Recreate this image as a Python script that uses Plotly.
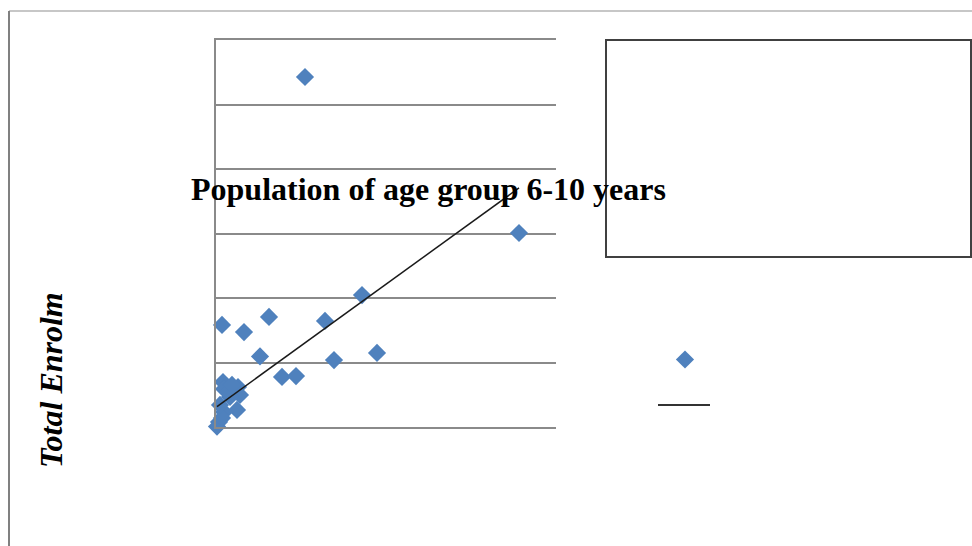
import numpy as np
import plotly.graph_objects as go

# District data: population aged 6-10 vs total enrolment
population_6_10 = [89000, 303000, 146000, 6000, 53000, 28000, 109000, 44000,
                   161000, 118000, 66000, 80000, 7000, 8000, 22000, 24000,
                   14000, 21000, 8000, 3000, 1000, 6000, 12000, 4000, 16000]
total_enrolment = [271300, 150400, 102300, 79100, 85300, 73600, 82200, 54700,
                   57400, 51900, 38800, 39500, 34900, 29500, 31000, 24800,
                   23300, 13200, 11600, 3900, 300, 7000, 27100, 17100, 32600]

# Linear trend (slope, intercept)
trend_slope = 0.561
trend_intercept = 15300

x_range = [0, 340000]
y_range = [0, 300000]
y_step = 50000

W, H = 972, 546
ML, MR, MT, MB = 216, 416, 40, 119
PW, PH = W - ML - MR, H - MT - MB


def fx(px):
    return (px - ML) / PW


def fy(py):
    return (H - MB - py) / PH


tx = np.array([min(population_6_10), max(population_6_10)])
ty = trend_slope * tx + trend_intercept

fig = go.Figure()
fig.add_trace(go.Scatter(
    x=population_6_10, y=total_enrolment, mode="markers",
    marker=dict(symbol="diamond", size=14, color="#4F81BD",
                line=dict(width=0)),
    cliponaxis=False, name=" ", showlegend=True,
))
fig.add_trace(go.Scatter(
    x=tx, y=ty, mode="lines", line=dict(color="#1a1a1a", width=1.5),
    cliponaxis=False, name=" ", showlegend=False,
))

gray = "#8a8a8a"
shapes = [
    # outer frame
    dict(type="line", xref="paper", yref="paper", x0=fx(9), x1=fx(972),
         y0=fy(11), y1=fy(11), line=dict(color="#b4b4b4", width=1.5)),
    dict(type="line", xref="paper", yref="paper", x0=fx(9), x1=fx(9),
         y0=fy(11), y1=fy(546), line=dict(color="#808080", width=2)),
    # legend frame
    dict(type="rect", xref="paper", yref="paper", x0=fx(606), x1=fx(971),
         y0=fy(40), y1=fy(257), line=dict(color="#404040", width=2)),
    # key for the trend line
    dict(type="line", xref="paper", yref="paper", x0=fx(658), x1=fx(710),
         y0=fy(405), y1=fy(405), line=dict(color="#333333", width=2)),
]

fig.update_layout(
    width=W, height=H,
    margin=dict(l=ML, r=MR, t=MT, b=MB, pad=0),
    paper_bgcolor="white", plot_bgcolor="white",
    xaxis=dict(range=x_range, showgrid=False, zeroline=False,
               showticklabels=False, showline=True, mirror=True,
               linecolor=gray, linewidth=1.5, ticks=""),
    yaxis=dict(range=y_range, dtick=y_step, tick0=0,
               showgrid=True, gridcolor=gray, gridwidth=1.5,
               zeroline=True, zerolinecolor=gray, zerolinewidth=1.5,
               showline=True, linecolor=gray, linewidth=1.5,
               showticklabels=False, ticks=""),
    showlegend=True,
    legend=dict(x=fx(665), y=fy(345), xanchor="left", yanchor="top",
                bgcolor="rgba(0,0,0,0)", font=dict(size=12)),
    shapes=shapes,
    annotations=[
        dict(text="<b>Population of age group 6-10 years</b>",
             xref="paper", yref="paper", x=fx(428.5), y=fy(189),
             xanchor="center", yanchor="middle", showarrow=False,
             font=dict(family="Liberation Serif", size=32, color="black")),
        dict(text="<b><i>Total Enrolm</i></b>", textangle=-90,
             xref="paper", yref="paper", x=fx(51), y=fy(380),
             xanchor="center", yanchor="middle", showarrow=False,
             font=dict(family="Liberation Serif", size=32, color="black")),
    ],
)

fig.write_html("out.html")
